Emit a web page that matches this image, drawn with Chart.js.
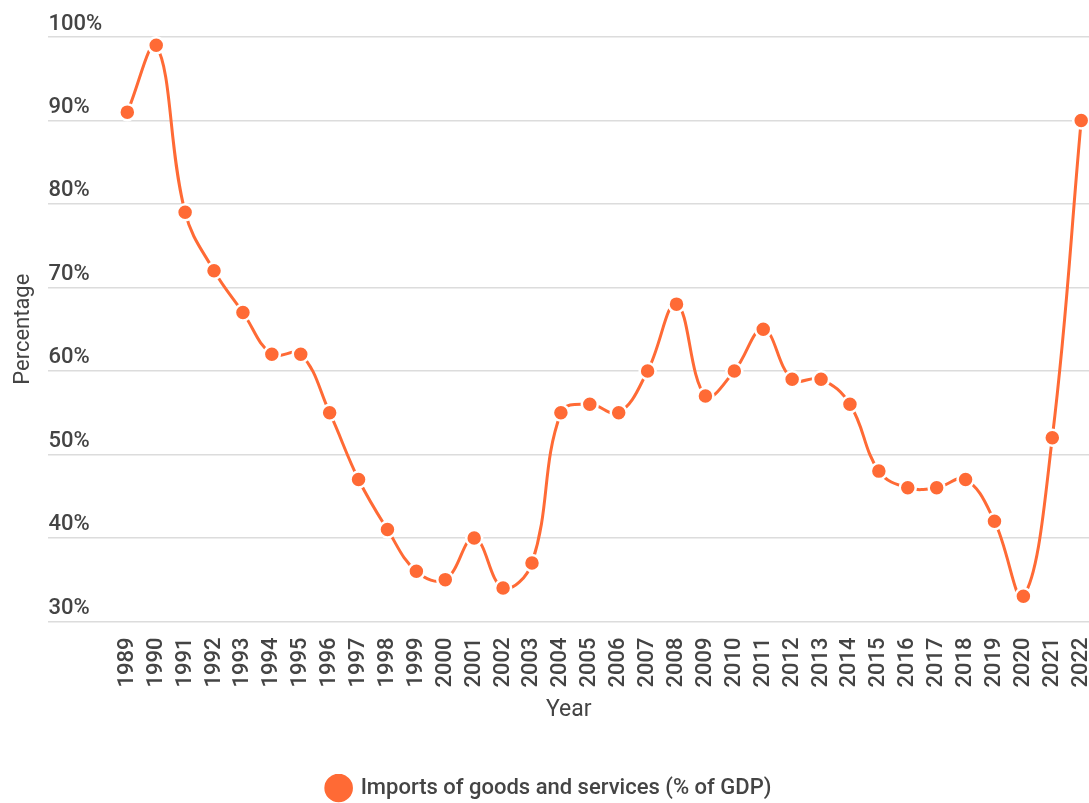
<!DOCTYPE html>
<html>
<head>
<meta charset="utf-8">
<script src="https://cdn.jsdelivr.net/npm/chart.js@4"></script>
<style>
  html, body { margin: 0; padding: 0; background: #fff; overflow: hidden; }
  #wrap { width: 1089px; height: 803px; }
</style>
</head>
<body>
<div id="wrap"><canvas id="importsChart"></canvas></div>
<script>
const years = [1989, 1990, 1991, 1992, 1993, 1994, 1995, 1996, 1997, 1998, 1999, 2000,
  2001, 2002, 2003, 2004, 2005, 2006, 2007, 2008, 2009, 2010, 2011, 2012, 2013, 2014,
  2015, 2016, 2017, 2018, 2019, 2020, 2021, 2022];
const imports = [91, 99, 79, 72, 67, 62, 62, 55, 47, 41, 36, 35,
  40, 34, 37, 55, 56, 55, 60, 68, 57, 60, 65, 59, 59, 56,
  48, 46, 46, 47, 42, 33, 52, 90];
const yTicks = [30, 40, 50, 60, 70, 80, 90, 100];

const orange = "#ff6a35";
const textColor = "#444444";

const points = years.map((y, i) => ({ x: y, y: imports[i] }));

const ctx = document.getElementById("importsChart").getContext("2d");
new Chart(ctx, {
  type: "line",
  data: {
    datasets: [{
      label: "Imports of goods and services (% of GDP)",
      data: points,
      borderColor: orange,
      backgroundColor: orange,
      borderWidth: 3,
      tension: 0.4,
      pointRadius: 8,
      pointBorderWidth: 2.5,
      pointBorderColor: "#ffffff",
      pointBackgroundColor: orange,
      clip: false
    }]
  },
  options: {
    responsive: true,
    maintainAspectRatio: false,
    animation: false,
    layout: { autoPadding: false, padding: { top: 37, right: 0, bottom: -6, left: 10 } },
    plugins: {
      tooltip: { enabled: false },
      legend: {
        position: "bottom",
        labels: {
          usePointStyle: true,
          pointStyle: "circle",
          boxWidth: 27,
          boxHeight: 27,
          padding: 3,
          color: textColor,
          font: { family: "Roboto", size: 22, weight: "500" }
        }
      }
    },
    scales: {
      x: {
        type: "linear",
        min: 1986.27,
        max: 2022.27,
        afterBuildTicks: axis => { axis.ticks = years.map(v => ({ value: v })); },
        afterFit: axis => { axis.paddingRight = 0; },
        grid: { display: false },
        border: { display: false },
        ticks: {
          autoSkip: false,
          maxRotation: 90,
          minRotation: 90,
          padding: 8,
          color: textColor,
          font: { family: "Roboto", size: 22, weight: "500" },
          callback: v => String(v)
        },
        title: {
          display: true,
          text: "Year",
          color: textColor,
          padding: { top: 1, bottom: 50 },
          font: { family: "Roboto", size: 23 }
        }
      },
      y: {
        min: 30,
        max: 100,
        afterBuildTicks: axis => { axis.ticks = yTicks.map(v => ({ value: v })); },
        grid: { color: "#dcdcdc", lineWidth: 1.5, drawTicks: false },
        border: { display: false },
        ticks: {
          mirror: true,
          padding: 0,
          labelOffset: -13,
          color: textColor,
          font: { family: "Roboto", size: 22, weight: "500" },
          callback: v => v + "%"
        },
        title: {
          display: true,
          text: "Percentage",
          color: textColor,
          padding: { top: 0, bottom: 12 },
          font: { family: "Roboto", size: 22 }
        }
      }
    }
  }
});
</script>
</body>
</html>
